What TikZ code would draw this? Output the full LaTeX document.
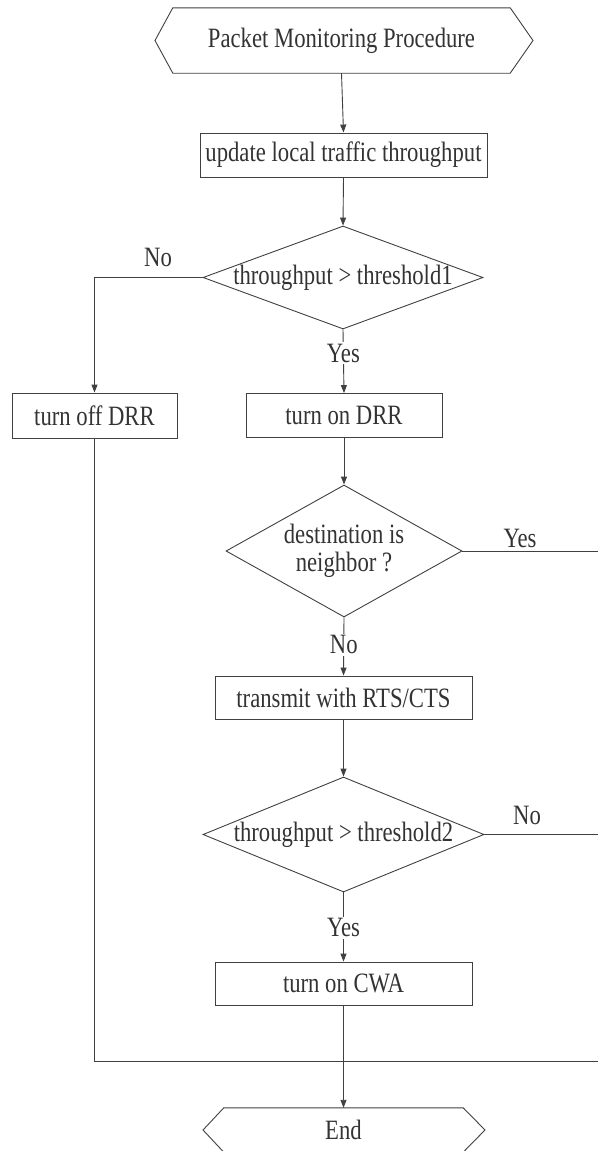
\documentclass[tikz,border=0pt]{standalone}
\usepackage{fontspec}
\setmainfont{Liberation Serif}[FakeStretch=0.81]
\usetikzlibrary{shapes.geometric,arrows.meta}
\begin{document}
\begin{tikzpicture}[x=1pt,y=-1pt,
  line/.style={draw=black!75,line width=0.9pt},
  arr/.style={line,-{Triangle[length=8pt,width=6pt]}},
  box/.style={draw=black!75,line width=0.9pt,rectangle,inner sep=0pt},
  dia/.style={draw=black!75,line width=0.9pt,diamond,inner sep=0pt},
  hexa/.style={rectangle,inner sep=0pt},
  txt/.style={text=black!80,inner sep=0pt,align=center,font=\fontsize{28}{28}\selectfont},
  lab/.style={txt,fill=white,inner sep=1.5pt},
  every node/.append style={text=black!80,font=\fontsize{28}{28}\selectfont}]
\useasboundingbox (0,0) rectangle (597,1151);
% start
\node[hexa,minimum width=337pt,minimum height=65pt] (start) at (341.5,40.5) {Packet Monitoring Procedure};
\draw[line] (155,40.5) -- (start.north west) -- (start.north east) -- (533,40.5) -- (start.south east) -- (start.south west) -- cycle;
\node[box,minimum width=287pt,minimum height=44pt] (upd) at (343.5,155) {update local traffic throughput};
\node[dia,minimum width=280pt,minimum height=103pt] (d1) at (343,277.5) {};
\node[txt] (d1t) at (d1.center) {throughput > threshold1};
\node[box,minimum width=165pt,minimum height=45pt] (noff) at (94.5,415.5) {turn off DRR};
\node[box,minimum width=196pt,minimum height=44pt] (don) at (344,415.5) {turn on DRR};
\node[dia,minimum width=236pt,minimum height=132pt] (d2) at (344,551) {};
\node[txt] (d2t) at (d2.center) {destination is\\neighbor ?};
\node[box,minimum width=257pt,minimum height=43pt] (tx) at (343.5,697.5) {transmit with RTS/CTS};
\node[dia,minimum width=281pt,minimum height=115pt] (d3) at (343.5,834.5) {};
\node[txt] (d3t) at (d3.center) {throughput > threshold2};
\node[box,minimum width=257pt,minimum height=43pt] (cwa) at (343.5,983.5) {turn on CWA};
\node[hexa,minimum width=239pt,minimum height=44pt] (end) at (343.5,1130) {End};
\draw[line] (203,1130) -- (end.north west) -- (end.north east) -- (485,1130) -- (end.south east) -- (end.south west) -- cycle;
\coordinate (j) at (343.5,1061);
\coordinate (r2) at (601,551);
\coordinate (r3) at (601,834.5);
\coordinate (rb) at (601,1061);
% connectors
\draw[arr] (start.south) -- (upd.north);
\draw[arr] (upd.south) -- (d1.north);
\draw[arr] (d1.west) -| (noff.north);
\node[txt] (no1) at (158,257) {No};
\draw[arr] (d1.south) -- node[lab,pos=0.37] (yes1) {Yes} (don.north);
\draw[arr] (don.south) -- (d2.north);
\draw[line] (d2.east) -- (r2) -- (rb);
\node[txt] (yes2) at (520,538) {Yes};
\draw[arr] (d2.south) -- node[lab,pos=0.47] (no2) {No} (tx.north);
\draw[arr] (tx.south) -- (d3.north);
\draw[line] (d3.east) -- (r3) -- (rb);
\node[txt] (no3) at (527,815) {No};
\draw[arr] (d3.south) -- node[lab,pos=0.51] (yes3) {Yes} (cwa.north);
\draw[line] (noff.south) |- (rb);
\draw[arr] (cwa.south) -- (j) -- (end.north);
\end{tikzpicture}
\end{document}
